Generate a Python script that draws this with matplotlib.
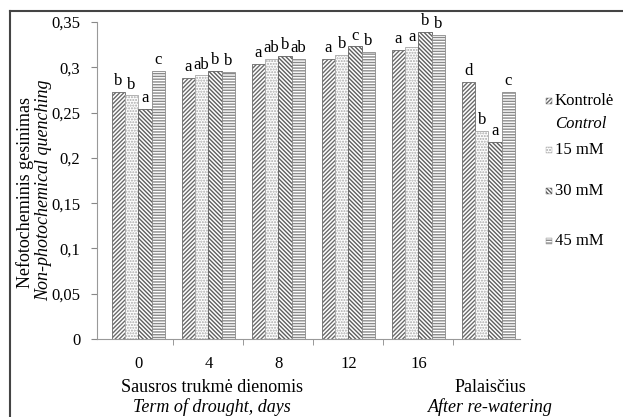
import numpy as np
import matplotlib
matplotlib.use('Agg')
import matplotlib.pyplot as plt
from matplotlib.patches import Rectangle
from matplotlib.lines import Line2D

plt.rcParams['font.family'] = ['Liberation Serif', 'DejaVu Serif']

# duomenys
groups = ['0', '4', '8', '12', '16', '']
series = ['Kontrolė', '15 mM', '30 mM', '45 mM']
kontrole = [0.273, 0.288, 0.304, 0.309, 0.319, 0.284]
mm15 = [0.269, 0.291, 0.309, 0.314, 0.322, 0.230]
mm30 = [0.254, 0.296, 0.313, 0.323, 0.339, 0.218]
mm45 = [0.296, 0.295, 0.309, 0.317, 0.336, 0.273]
letters = [['b', 'b', 'a', 'c'],
           ['a', 'ab', 'b', 'b'],
           ['a', 'ab', 'b', 'ab'],
           ['a', 'b', 'c', 'b'],
           ['a', 'a', 'b', 'b'],
           ['d', 'b', 'a', 'c']]
yticks = [0, 0.05, 0.1, 0.15, 0.2, 0.25, 0.3, 0.35]
ytick_labels = ['0', '0,05', '0,1', '0,15', '0,2', '0,25', '0,3', '0,35']

hatches = ['////////', '......', '\\\\\\\\\\\\\\\\', '------']
edges = ['#6a6a6a', '#a8a8a8', '#5e5e5e', '#8a8a8a']

fig = plt.figure(figsize=(6.23, 4.17), dpi=100)
ax = fig.add_axes([97/623, 1-339/417, 423/623, 317/417])

x = np.arange(len(groups))
w = 0.19
vals = [kontrole, mm15, mm30, mm45]
for i, v in enumerate(vals):
    xs = x + (i - 1.5) * w
    ax.bar(xs, v, width=w, color='white', edgecolor=edges[i],
           hatch=hatches[i], linewidth=0.6)
    for j, val in enumerate(v):
        ax.text(xs[j], val + 0.003, letters[j][i], ha='center', va='bottom',
                fontsize=12)

ax.set_xlim(-0.59, 5.45)
ax.set_ylim(0, 0.35)
ax.set_yticks(yticks)
ax.set_yticklabels(ytick_labels, fontsize=12)
ax.set_xticks(x[:5])
ax.set_xticklabels(groups[:5], fontsize=12)
ax.tick_params(axis='x', length=0, pad=12)
ax.set_xticks(x[:-1] + 0.5, minor=True)
ax.tick_params(axis='x', which='minor', length=4, color='#888888')
ax.tick_params(axis='y', length=4, color='#888888', pad=8)
for s in ['top', 'right']:
    ax.spines[s].set_visible(False)
for s in ['left', 'bottom']:
    ax.spines[s].set_color('#999999')

fig.text(25/623, 1-192/417, 'Nefotocheminis gesinimas', rotation=90,
         fontsize=13, ha='center', va='center')
fig.text(44/623, 1-190/417, 'Non-photochemical quenching', rotation=90,
         style='italic', fontsize=13, ha='center', va='center')

fig.text(212/623, 1-387/417, 'Sausros trukmė dienomis', fontsize=13,
         ha='center', va='center')
fig.text(212/623, 1-407/417, 'Term of drought, days', fontsize=13,
         style='italic', ha='center', va='center')
fig.text(490/623, 1-387/417, 'Palaisčius', fontsize=13,
         ha='center', va='center')
fig.text(490/623, 1-407/417, 'After re-watering', fontsize=13,
         style='italic', ha='center', va='center')

# legenda
leg_y = [101, 150, 191, 241]
for i, s in enumerate(series):
    yy = 1 - leg_y[i]/417
    fig.add_artist(Rectangle((546/623, yy - 3/417), 6/623, 6/417,
                             facecolor='white', edgecolor=edges[i],
                             hatch=hatches[i], linewidth=0.3,
                             transform=fig.transFigure))
    fig.text(555/623, yy, s, fontsize=12, va='center')
fig.text(555/623, 1-124/417, 'Control', fontsize=12, style='italic',
         va='center')

# rėmelis
fig.add_artist(Line2D([10/623, 10/623], [0, 1-11/417], color='#444444',
                      linewidth=1.5, transform=fig.transFigure))
fig.add_artist(Line2D([10/623, 1], [1-11/417, 1-11/417], color='#444444',
                      linewidth=1.5, transform=fig.transFigure))

fig.savefig('out.png', dpi=100)
